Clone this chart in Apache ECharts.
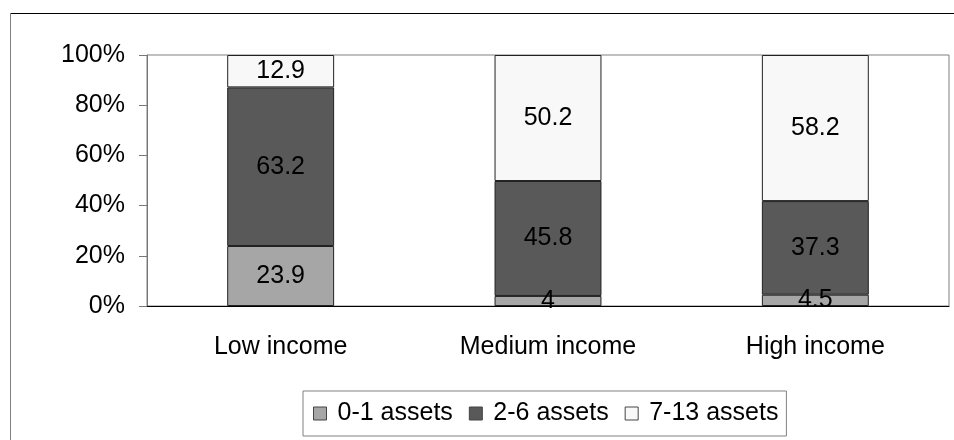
<!DOCTYPE html>
<html>
<head>
<meta charset="utf-8">
<script src="https://cdn.jsdelivr.net/npm/echarts@6/dist/echarts.min.js"></script>
<style>
html, body { margin:0; padding:0; background:#fff; }
#myChart { width:954px; height:440px; }
</style>
</head>
<body>
<div id="myChart"></div>
<script>
var categories = ['Low income', 'Medium income', 'High income'];
var assets01 = [23.9, 4, 4.5];
var assets26 = [63.2, 45.8, 37.3];
var assets713 = [12.9, 50.2, 58.2];
var yTicks = [0, 20, 40, 60, 80, 100];

var font = "'Liberation Sans', Arial, sans-serif";

function barSeries(name, data, color){
    return {
        name: name,
        type: 'bar',
        stack: 'all',
        barWidth: '40%',
        data: data,
        itemStyle: { color: color, borderColor: '#222', borderWidth: 1 },
        label: {
            show: true,
            position: 'inside',
            color: '#000',
            fontFamily: font,
            fontSize: 25
        },
        emphasis: { disabled: true }
    };
}

var chart = echarts.init(document.querySelector('#myChart'));
var option = {
    animation: false,
    backgroundColor: '#fff',
    graphic: [
        { type: 'line', shape: { x1: 10, y1: 13.5, x2: 954, y2: 13.5 }, style: { stroke: '#000', lineWidth: 1 } },
        { type: 'line', shape: { x1: 10.5, y1: 13, x2: 10.5, y2: 440 }, style: { stroke: '#808080', lineWidth: 1 } }
    ],
    grid: {
        left: 147, right: 5, top: 55, bottom: 134,
        show: true, borderColor: '#808080', borderWidth: 1
    },
    legend: {
        left: 303, top: 391,
        padding: [10, 8, 10, 10],
        borderColor: '#808080', borderWidth: 1,
        itemWidth: 13, itemHeight: 13, itemGap: 16,
        icon: 'rect',
        itemStyle: { borderColor: '#444', borderWidth: 1 },
        textStyle: { fontFamily: font, fontSize: 25, color: '#000', padding: [0, 0, 0, 6] },
        data: ['0-1 assets', '2-6 assets', '7-13 assets']
    },
    xAxis: {
        type: 'category',
        data: categories,
        axisLine: { lineStyle: { color: '#000' } },
        axisTick: { length: 8, lineStyle: { color: '#000' } },
        axisLabel: { margin: 29, color: '#000', fontFamily: font, fontSize: 25 }
    },
    yAxis: {
        type: 'value',
        min: yTicks[0], max: yTicks[yTicks.length - 1], interval: 20,
        splitLine: { show: false },
        axisLine: { show: true, lineStyle: { color: '#777' } },
        axisTick: { show: true, length: 8, lineStyle: { color: '#777' } },
        axisLabel: { margin: 22, color: '#000', fontFamily: font, fontSize: 25, formatter: '{value}%' }
    },
    series: [
        barSeries('0-1 assets', assets01, '#a6a6a6'),
        barSeries('2-6 assets', assets26, '#595959'),
        barSeries('7-13 assets', assets713, '#f8f8f8')
    ]
};
chart.setOption(option);
</script>
</body>
</html>
